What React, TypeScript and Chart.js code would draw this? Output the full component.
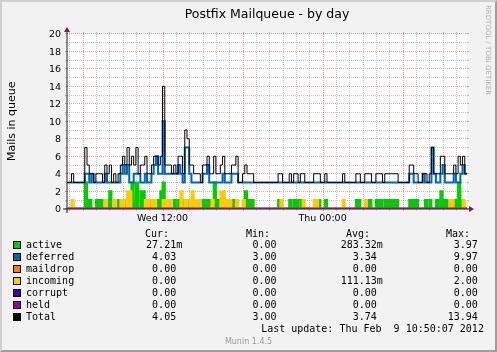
import React, { useEffect, useRef } from "react";
import { Chart, registerables } from "chart.js";

Chart.register(...registerables);

// ---------- text ----------
const titleText = "Postfix Mailqueue - by day";
const yAxisTitle = "Mails in queue";
const watermark = "RRDTOOL / TOBI OETIKER";
const lastUpdate = "Last update: Thu Feb  9 10:50:07 2012";
const footer = "Munin 1.4.5";

// ---------- time axis (minutes since Wed 00:00) ----------
const startMinute = 290; // Wed 04:50
const endMinute = 2090; // Thu 10:50
const xTickValues = [720, 1440];
const xTickLabels = ["Wed 12:00", "Thu 00:00"];
const minorGridMinutes = 60;
const majorGridMinutes = 360;

// ---------- value axis ----------
const yMin = 0;
const yMax = 20;
const yTickStep = 2;
const yMinorStep = 1;

// ---------- series (10-minute samples, Wed 04:50 .. Thu 10:50) ----------
const active = [
  0, 0, 0, 0, 0, 0, 0, 0, 3, 1,
  1, 0, 0, 1, 1, 1, 0, 0, 1, 2,
  0, 0, 0, 1, 0, 0, 1, 0, 0, 3,
  1, 3, 0, 2, 2, 1, 0, 1, 0, 0,
  0, 1, 2, 3, 0, 0, 0, 0, 1, 0,
  1, 0, 1, 1, 1, 0, 0, 0, 0, 0,
  0, 1, 1, 1, 1, 0, 3, 1, 1, 0,
  0, 0, 0, 0, 1, 1, 1, 0, 0, 0,
  2, 1, 1, 1, 0, 0, 0, 0, 0, 0,
  0, 0, 0, 0, 0, 1, 0, 0, 0, 0,
  1, 0, 1, 1, 0, 1, 0, 0, 0, 0,
  0, 0, 0, 1, 0, 0, 1, 0, 0, 0,
  0, 0, 0, 0, 0, 0, 0, 0, 0, 0,
  1, 1, 0, 0, 0, 1, 1, 0, 0, 1,
  1, 1, 0, 1, 1, 1, 1, 1, 1, 0,
  0, 0, 0, 0, 1, 1, 1, 1, 0, 0,
  0, 1, 0, 1, 0, 0, 1, 1, 2, 1,
  1, 1, 0, 0, 1, 1, 3, 1, 0, 0,
];

const deferred = [
  3, 3, 3, 3, 3, 3, 3, 3, 4, 4,
  3, 4, 3, 3, 3, 3, 3, 4, 3, 3,
  3, 3, 3, 3, 4, 5, 4, 5, 3, 3,
  4, 4, 4, 3, 3, 4, 3, 3, 4, 5,
  6, 4, 4, 10, 4, 4, 4, 4, 4, 4,
  5, 4, 3, 7, 7, 4, 3, 3, 3, 3,
  3, 4, 4, 5, 3, 3, 3, 3, 3, 3,
  4, 3, 3, 3, 4, 4, 4, 3, 3, 3,
  3, 3, 3, 3, 3, 3, 3, 3, 3, 3,
  3, 3, 3, 3, 3, 3, 3, 3, 3, 3,
  3, 3, 3, 3, 3, 3, 3, 3, 3, 3,
  3, 3, 3, 3, 3, 3, 3, 3, 3, 3,
  3, 3, 3, 3, 3, 3, 3, 3, 3, 3,
  3, 3, 3, 3, 3, 3, 3, 3, 3, 3,
  3, 3, 3, 3, 3, 3, 3, 3, 3, 3,
  3, 3, 3, 3, 4, 4, 3, 3, 3, 3,
  4, 3, 3, 3, 7, 4, 3, 3, 4, 5,
  3, 3, 3, 3, 4, 3, 3, 4, 5, 4,
];

const incoming = [
  0, 0, 1, 0, 0, 0, 0, 0, 0, 0,
  0, 0, 0, 0, 0, 0, 0, 1, 0, 0,
  0, 1, 0, 0, 1, 1, 0, 2, 2, 0,
  0, 0, 0, 0, 0, 1, 1, 0, 1, 1,
  0, 0, 0, 1, 1, 1, 1, 0, 0, 0,
  0, 2, 0, 1, 0, 1, 2, 1, 1, 1,
  0, 0, 0, 0, 0, 1, 0, 0, 0, 2,
  2, 1, 1, 1, 0, 0, 1, 0, 0, 1,
  0, 0, 0, 0, 0, 0, 0, 0, 0, 0,
  0, 0, 0, 0, 0, 0, 1, 0, 0, 0,
  0, 0, 0, 0, 0, 0, 1, 0, 0, 0,
  0, 1, 1, 0, 0, 0, 0, 0, 0, 0,
  0, 0, 0, 0, 1, 0, 0, 0, 0, 0,
  0, 0, 0, 0, 1, 0, 0, 0, 0, 0,
  0, 0, 0, 0, 0, 0, 0, 0, 0, 0,
  0, 0, 0, 0, 0, 0, 0, 0, 0, 0,
  0, 0, 0, 0, 0, 0, 0, 0, 0, 0,
  0, 0, 1, 1, 0, 0, 0, 0, 1, 0,
];

const total = [
  3, 3, 4, 3, 3, 3, 3, 3, 7, 5,
  4, 4, 3, 4, 4, 4, 3, 5, 4, 5,
  3, 4, 3, 4, 5, 6, 5, 7, 5, 6,
  5, 7, 4, 5, 5, 6, 4, 4, 5, 6,
  6, 5, 6, 14, 5, 5, 5, 4, 5, 4,
  6, 6, 4, 9, 8, 5, 5, 4, 4, 4,
  3, 5, 5, 6, 4, 4, 6, 4, 4, 5,
  6, 4, 4, 4, 5, 5, 6, 3, 3, 4,
  5, 4, 4, 4, 3, 3, 3, 3, 3, 3,
  3, 3, 3, 3, 3, 4, 4, 3, 3, 3,
  4, 3, 4, 4, 3, 4, 4, 3, 3, 3,
  3, 4, 4, 4, 3, 3, 4, 3, 3, 3,
  3, 3, 3, 3, 4, 3, 3, 3, 3, 3,
  4, 4, 3, 3, 4, 4, 4, 3, 3, 4,
  4, 4, 3, 4, 4, 4, 4, 4, 4, 3,
  3, 3, 3, 3, 5, 5, 4, 4, 3, 3,
  4, 4, 3, 4, 7, 4, 4, 4, 6, 6,
  4, 4, 4, 4, 5, 4, 6, 5, 6, 4,
];

// constant-zero series over the whole span
const maildrop = [0];
const corrupt = [0];
const held = [0];

// ---------- legend table ----------
const legendLabels = ["active", "deferred", "maildrop", "incoming", "corrupt", "held", "Total"];
const legendCur = ["27.21m", "4.03", "0.00", "0.00", "0.00", "0.00", "4.05"];
const legendMin = ["0.00", "3.00", "0.00", "0.00", "0.00", "0.00", "3.00"];
const legendAvg = ["283.32m", "3.34", "0.00", "111.13m", "0.00", "0.00", "3.74"];
const legendMax = ["3.97", "9.97", "0.00", "2.00", "0.00", "0.00", "13.94"];
const legendHeaders = ["Cur:", "Min:", "Avg:", "Max:"];

// ---------- styles ----------
const seriesColors = ["#00CC00", "#0066B3", "#FF8000", "#FFCC00", "#330099", "#990099", "#000000"];
const COL = {
  back: "#F2F2F2",
  shadeA: "#CFCFCF",
  shadeB: "#9E9E9E",
  grid: "rgba(143,143,143,0.5)",
  mgrid: "rgba(222,79,79,0.5)",
  axis: "#1F1F1F",
  arrow: "#801F1F",
  font: "#000000",
};

function toPoints(values: number[]) {
  const step = (endMinute - startMinute) / values.length;
  const pts = values.map((v, i) => ({ x: startMinute + i * step, y: v }));
  pts.push({ x: endMinute, y: values[values.length - 1] });
  return pts;
}

function line(ctx: CanvasRenderingContext2D, x1: number, y1: number, x2: number, y2: number) {
  ctx.beginPath();
  ctx.moveTo(x1, y1);
  ctx.lineTo(x2, y2);
  ctx.stroke();
}

const rrdPlugin = {
  id: "rrdLook",
  beforeDraw(chart: any) {
    const { ctx, width, height, chartArea: a } = chart;
    ctx.save();
    ctx.fillStyle = COL.back;
    ctx.fillRect(0, 0, width, height);
    ctx.fillStyle = COL.shadeA;
    ctx.beginPath();
    ctx.moveTo(0, height);
    ctx.lineTo(2, height - 2);
    ctx.lineTo(2, 2);
    ctx.lineTo(width - 2, 2);
    ctx.lineTo(width, 0);
    ctx.lineTo(0, 0);
    ctx.closePath();
    ctx.fill();
    ctx.fillStyle = COL.shadeB;
    ctx.beginPath();
    ctx.moveTo(2, height - 2);
    ctx.lineTo(width - 2, height - 2);
    ctx.lineTo(width - 2, 2);
    ctx.lineTo(width, 0);
    ctx.lineTo(width, height);
    ctx.lineTo(0, height);
    ctx.closePath();
    ctx.fill();
    ctx.fillStyle = "#FFFFFF";
    const l = Math.round(a.left), t = Math.round(a.top), r = Math.round(a.right), b = Math.round(a.bottom);
    ctx.fillRect(l, t, r - l, b - t);
    ctx.restore();
  },
  beforeDatasetsDraw(chart: any) {
    const { ctx, chartArea: a } = chart;
    const xs = chart.scales.x;
    const ys = chart.scales.y;
    const X0 = Math.round(a.left), X1 = Math.round(a.right), Y0 = Math.round(a.bottom), Y1 = Math.round(a.top);
    ctx.save();
    ctx.lineWidth = 1;
    // horizontal grid
    for (let v = yMin; v <= yMax; v += yMinorStep) {
      const y = Math.floor(ys.getPixelForValue(v)) + 0.5;
      const major = v % yTickStep === 0;
      ctx.strokeStyle = major ? COL.mgrid : COL.grid;
      ctx.setLineDash([]);
      line(ctx, X0 - 2, y, X0, y);
      line(ctx, X1, y, X1 + 2, y);
      ctx.setLineDash([1, 1]);
      line(ctx, X0, y, X1, y);
    }
    // vertical grid
    const first = Math.ceil(startMinute / minorGridMinutes) * minorGridMinutes;
    for (let m = first; m <= endMinute; m += minorGridMinutes) {
      const x = Math.round(xs.getPixelForValue(m)) + 0.5;
      const major = m % majorGridMinutes === 0;
      ctx.strokeStyle = major ? COL.mgrid : COL.grid;
      ctx.setLineDash([]);
      line(ctx, x, Y0, x, Y0 + 2);
      line(ctx, x, Y1 - 2, x, Y1);
      ctx.setLineDash([1, 1]);
      line(ctx, x, Y1, x, Y0);
    }
    ctx.setLineDash([]);
    // axes
    ctx.strokeStyle = COL.axis;
    line(ctx, X0 - 4, Y0, X1 + 4, Y0);
    line(ctx, X0, Y0 + 4, X0, Y1 - 4);
    // arrows
    ctx.fillStyle = COL.arrow;
    ctx.beginPath();
    ctx.moveTo(X1 + 2, Y0 - 3);
    ctx.lineTo(X1 + 2, Y0 + 3);
    ctx.lineTo(X1 + 7, Y0);
    ctx.closePath();
    ctx.fill();
    ctx.beginPath();
    ctx.moveTo(X0 - 3, Y1 - 2);
    ctx.lineTo(X0 + 3, Y1 - 2);
    ctx.lineTo(X0, Y1 - 7);
    ctx.closePath();
    ctx.fill();
    ctx.restore();
  },
  afterDraw(chart: any) {
    const { ctx, width, chartArea: a } = chart;
    const xs = chart.scales.x;
    const ys = chart.scales.y;
    ctx.save();
    ctx.fillStyle = COL.font;
    ctx.textBaseline = "alphabetic";

    // title
    ctx.font = '12.5px "DejaVu Sans"';
    ctx.textAlign = "center";
    ctx.fillText(titleText, (a.left + a.right) / 2, 17.5);

    // y tick labels
    ctx.font = '9.5px "DejaVu Sans"';
    ctx.textAlign = "right";
    for (const t of ys.ticks) {
      const y = ys.getPixelForValue(t.value);
      ctx.fillText(String(t.value), 61, y + 3.4);
    }
    // x tick labels
    ctx.textAlign = "center";
    xTickValues.forEach((v, i) => {
      ctx.fillText(xTickLabels[i], xs.getPixelForValue(v), 220.5);
    });

    // y axis title
    ctx.font = '11px "DejaVu Sans"';
    ctx.save();
    ctx.translate(14.5, (a.top + a.bottom) / 2);
    ctx.rotate(-Math.PI / 2);
    ctx.textAlign = "center";
    ctx.fillText(yAxisTitle, 0, 0);
    ctx.restore();

    // watermark
    ctx.save();
    ctx.fillStyle = "rgba(0,0,0,0.3)";
    ctx.font = '7px "DejaVu Sans"';
    ctx.translate(485.5, 5);
    ctx.rotate(Math.PI / 2);
    ctx.textAlign = "left";
    ctx.fillText(watermark, 0, 0);
    ctx.restore();

    // legend
    ctx.font = '10px "DejaVu Sans Mono"';
    ctx.textAlign = "left";
    const headerX = [145, 246, 346, 446];
    legendHeaders.forEach((h, i) => ctx.fillText(h, headerX[i], 236.7));
    const colRight = [182.2, 282.6, 382.8, 483.9];
    const cols = [legendCur, legendMin, legendAvg, legendMax];
    legendLabels.forEach((lab, r) => {
      const b = 248.4 + r * 11.95;
      const top = Math.round(b) - 7;
      ctx.fillStyle = seriesColors[r];
      ctx.fillRect(13, top, 8, 8);
      ctx.strokeStyle = "#000000";
      ctx.lineWidth = 1;
      ctx.strokeRect(13.5, top + 0.5, 7, 7);
      ctx.fillStyle = COL.font;
      ctx.textAlign = "left";
      ctx.fillText(lab, 26, b);
      ctx.textAlign = "right";
      cols.forEach((col, c) => {
        const s = col[r];
        const txt = /[a-zA-Z]$/.test(s) ? s : s + " ";
        ctx.fillText(txt, colRight[c], b);
      });
    });
    ctx.textAlign = "right";
    ctx.fillText(lastUpdate, 483.9, 332.4);

    // footer
    ctx.font = '8px "DejaVu Sans"';
    ctx.fillStyle = "#999999";
    ctx.textAlign = "center";
    ctx.fillText(footer, width / 2, 343.5);
    ctx.restore();
  },
};

export default function App() {
  const ref = useRef<HTMLCanvasElement>(null);
  useEffect(() => {
    document.body.style.margin = "0";
    const canvas = ref.current;
    if (!canvas) return;
    const series: [string, number[], number, boolean][] = [
      ["active", active, 2, true],
      ["deferred", deferred, 2, false],
      ["maildrop", maildrop, 2, false],
      ["incoming", incoming, 2, true],
      ["corrupt", corrupt, 2, false],
      ["held", held, 2, false],
      ["Total", total, 1, false],
    ];
    const datasets = series.map(([label, values, bw, filled], i) => ({
      label,
      data: toPoints(values),
      borderColor: seriesColors[i],
      backgroundColor: seriesColors[i],
      borderWidth: bw,
      fill: filled ? "origin" : false,
      stepped: true,
      pointRadius: 0,
      pointHoverRadius: 0,
      borderJoinStyle: "miter" as const,
      borderCapStyle: "butt" as const,
      order: series.length - 1 - i,
    }));
    const chart = new Chart(canvas, {
      type: "line",
      data: { datasets },
      options: {
        animation: false,
        responsive: false,
        devicePixelRatio: 1,
        events: [],
        layout: { autoPadding: false, padding: { left: 67, right: 30, top: 33.75, bottom: 143.25 } },
        plugins: { legend: { display: false }, title: { display: false }, tooltip: { enabled: false } },
        scales: {
          x: { type: "linear", display: false, min: startMinute, max: endMinute },
          y: { type: "linear", display: false, min: yMin, max: yMax, ticks: { stepSize: yTickStep } },
        },
      },
      plugins: [rrdPlugin],
    } as any);
    return () => chart.destroy();
  }, []);
  return <canvas ref={ref} width={497} height={352} style={{ display: "block", width: 497, height: 352 }} />;
}
